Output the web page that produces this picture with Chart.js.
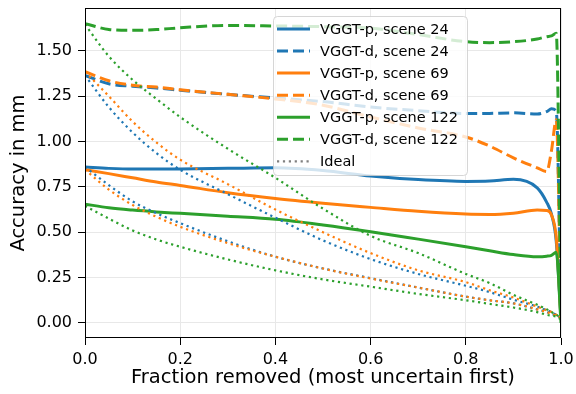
<!DOCTYPE html>
<html>
<head>
<meta charset="utf-8">
<script src="https://cdn.jsdelivr.net/npm/chart.js@4.4.1/dist/chart.umd.min.js"></script>
<style>
  html, body { margin: 0; padding: 0; background: #fff; }
</style>
</head>
<body>
<canvas id="chart" width="576" height="394"></canvas>
<script>
// fraction removed, shared by every curve
const fractions = [0, 0.05, 0.1, 0.15, 0.2, 0.3, 0.4, 0.5, 0.6, 0.7, 0.8, 0.85, 0.9, 0.95, 0.97, 0.98, 0.99, 1.0];

// measured curves (accuracy in mm)
const p24  = [0.86, 0.852, 0.848, 0.848, 0.849, 0.852, 0.855, 0.84, 0.81, 0.79, 0.78, 0.782, 0.792, 0.745, 0.665, 0.6, 0.45, 0.02];
const d24  = [1.365, 1.318, 1.305, 1.295, 1.283, 1.26, 1.24, 1.22, 1.19, 1.17, 1.154, 1.155, 1.158, 1.152, 1.165, 1.18, 1.168, 0.03];
const p69  = [0.845, 0.823, 0.8, 0.777, 0.758, 0.718, 0.686, 0.66, 0.637, 0.615, 0.6, 0.598, 0.605, 0.622, 0.62, 0.595, 0.47, 0.02];
const d69  = [1.385, 1.335, 1.31, 1.3, 1.285, 1.26, 1.235, 1.2, 1.135, 1.075, 1.025, 0.975, 0.91, 0.855, 0.835, 0.95, 1.12, 0.03];
const p122 = [0.655, 0.635, 0.622, 0.612, 0.604, 0.588, 0.571, 0.54, 0.503, 0.462, 0.42, 0.398, 0.377, 0.365, 0.368, 0.373, 0.39, 0.0];
const d122 = [1.65, 1.618, 1.613, 1.617, 1.627, 1.64, 1.637, 1.633, 1.625, 1.59, 1.55, 1.545, 1.55, 1.565, 1.578, 1.582, 1.597, 0.03];

// ideal (oracle ordering) curves
const idealP24  = [0.86, 0.76, 0.67, 0.605, 0.55, 0.45, 0.365, 0.3, 0.247, 0.195, 0.145, 0.125, 0.108, 0.075, 0.06, 0.05, 0.04, 0.03];
const idealD24  = [1.365, 1.19, 1.05, 0.936, 0.844, 0.71, 0.58, 0.455, 0.352, 0.27, 0.205, 0.17, 0.128, 0.09, 0.07, 0.06, 0.045, 0.03];
const idealP69  = [0.845, 0.735, 0.65, 0.585, 0.53, 0.44, 0.365, 0.3, 0.245, 0.195, 0.145, 0.125, 0.108, 0.075, 0.06, 0.05, 0.04, 0.03];
const idealD69  = [1.385, 1.25, 1.11, 0.995, 0.9, 0.765, 0.625, 0.5, 0.385, 0.29, 0.225, 0.18, 0.14, 0.09, 0.07, 0.06, 0.045, 0.03];
const idealP122 = [0.645, 0.575, 0.51, 0.46, 0.42, 0.35, 0.29, 0.24, 0.2, 0.16, 0.125, 0.105, 0.085, 0.06, 0.045, 0.04, 0.035, 0.02];
const idealD122 = [1.645, 1.47, 1.34, 1.235, 1.135, 0.96, 0.8, 0.63, 0.48, 0.385, 0.27, 0.22, 0.155, 0.1, 0.075, 0.06, 0.045, 0.03];

const xTicks = [0, 0.2, 0.4, 0.6, 0.8, 1.0];
const yTicks = [0, 0.25, 0.5, 0.75, 1.0, 1.25, 1.5];

const BLUE = '#1f77b4', ORANGE = '#ff7f0e', GREEN = '#2ca02c', GREY = '#808080';
const DASH = [11, 5];
const DOT = [2.2, 3.7];

Chart.defaults.font.family = '"DejaVu Sans", sans-serif';
Chart.defaults.color = '#000';

function pts(ys) {
  return fractions.map((x, i) => ({ x: x, y: ys[i] }));
}

function series(label, ys, color, dash, width) {
  return {
    label: label,
    data: pts(ys),
    borderColor: color,
    backgroundColor: color,
    borderWidth: width,
    borderDash: dash,
    borderCapStyle: 'butt',
    pointRadius: 0,
    fill: false,
    cubicInterpolationMode: 'monotone'
  };
}

const datasets = [
  series('VGGT-p, scene 24', p24, BLUE, [], 3),
  series('VGGT-d, scene 24', d24, BLUE, DASH, 3),
  series('VGGT-p, scene 69', p69, ORANGE, [], 3),
  series('VGGT-d, scene 69', d69, ORANGE, DASH, 3),
  series('VGGT-p, scene 122', p122, GREEN, [], 3),
  series('VGGT-d, scene 122', d122, GREEN, DASH, 3),
  series('', idealP24, BLUE, DOT, 2.2),
  series('', idealD24, BLUE, DOT, 2.2),
  series('', idealP69, ORANGE, DOT, 2.2),
  series('', idealD69, ORANGE, DOT, 2.2),
  series('', idealP122, GREEN, DOT, 2.2),
  series('', idealD122, GREEN, DOT, 2.2),
  { label: 'Ideal', data: [], borderColor: GREY, borderWidth: 2.2, borderDash: DOT, pointRadius: 0 }
];
// later datasets on top, like matplotlib
datasets.forEach((d, i) => d.order = -i);

// top/right spines and a matplotlib-like legend box
const frameAndLegend = {
  id: 'frameAndLegend',
  afterDatasetsDraw(chart) {
    const { ctx, chartArea: a } = chart;
    ctx.save();
    ctx.strokeStyle = '#000';
    ctx.lineWidth = 1;
    ctx.setLineDash([]);
    ctx.strokeRect(a.left + 0.5, a.top + 0.5, a.right - a.left - 1, a.bottom - a.top - 1);

    const items = chart.data.datasets.filter(d => d.label);
    const bx = 273, by = 16, bw = 194, bh = 159, rowH = 22.05;
    ctx.beginPath();
    ctx.roundRect(bx + 0.5, by + 0.5, bw, bh, 4);
    ctx.fillStyle = 'rgba(255,255,255,0.8)';
    ctx.fill();
    ctx.strokeStyle = 'rgba(204,204,204,0.8)';
    ctx.stroke();

    ctx.font = '14.5px "DejaVu Sans", sans-serif';
    ctx.textBaseline = 'middle';
    items.forEach((d, i) => {
      const y = by + 13 + i * rowH;
      ctx.beginPath();
      ctx.setLineDash(d.borderDash || []);
      ctx.lineCap = 'butt';
      ctx.strokeStyle = d.borderColor;
      ctx.lineWidth = d.borderWidth;
      ctx.moveTo(277, y);
      ctx.lineTo(310, y);
      ctx.stroke();
      ctx.setLineDash([]);
      ctx.fillStyle = '#000';
      ctx.fillText(d.label, 320, y + 1);
    });
    ctx.restore();
  }
};

new Chart(document.getElementById('chart'), {
  type: 'line',
  data: { datasets: datasets },
  options: {
    responsive: false,
    devicePixelRatio: 1,
    animation: false,
    layout: { padding: { top: 8, right: 15, left: 0, bottom: 0 } },
    plugins: { legend: { display: false }, tooltip: { enabled: false } },
    scales: {
      x: {
        type: 'linear',
        min: 0,
        max: 1,
        afterFit: s => { s.height = 56; s.paddingLeft = 0; s.paddingRight = 0; },
        afterBuildTicks: s => { s.ticks = xTicks.map(v => ({ value: v })); },
        ticks: { callback: v => v.toFixed(1), font: { size: 16 }, padding: 5, maxRotation: 0 },
        grid: { color: '#e8e8e8', tickColor: '#000', tickLength: 7, lineWidth: 1 },
        border: { display: false },
        title: { display: true, text: 'Fraction removed (most uncertain first)', font: { size: 19.5 }, padding: { top: 0, bottom: 4 } }
      },
      y: {
        type: 'linear',
        min: -0.083,
        max: 1.736,
        afterFit: s => { s.width = 85; s.paddingTop = 0; s.paddingBottom = 0; },
        afterBuildTicks: s => { s.ticks = yTicks.map(v => ({ value: v })); },
        ticks: { callback: v => v.toFixed(2), font: { size: 16 }, padding: 6 },
        grid: { color: '#e8e8e8', tickColor: '#000', tickLength: 7, lineWidth: 1 },
        border: { display: false },
        title: { display: true, text: 'Accuracy in mm', font: { size: 19.5 }, padding: { top: 7, bottom: 0 } }
      }
    }
  },
  plugins: [frameAndLegend]
});
</script>
</body>
</html>
